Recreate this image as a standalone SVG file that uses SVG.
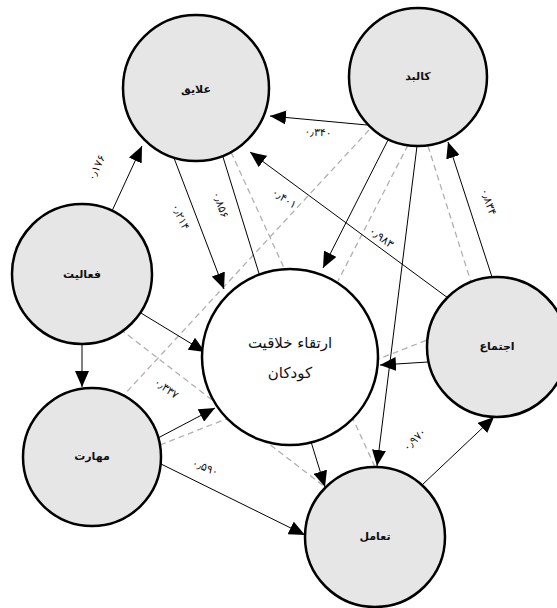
<svg xmlns="http://www.w3.org/2000/svg" width="557" height="608" viewBox="0 0 557 608">
<defs>
<marker id="arr" viewBox="0 0 16 14" refX="16" refY="7" markerWidth="16" markerHeight="14" markerUnits="userSpaceOnUse" orient="auto">
<path d="M0,0 L16,7 L0,14 Z" fill="#000"/>
</marker>
<style>
.c{stroke:#000;stroke-width:1;fill:none}
.ca{stroke:#000;stroke-width:1;fill:none;marker-end:url(#arr)}
.d{stroke:#b0b0b0;stroke-width:1.3;fill:none;stroke-dasharray:6 4}
.n{fill:#e6e6e6;stroke:#000;stroke-width:2.5}
.m{fill:#fff;stroke:#000;stroke-width:2.5}
.t{font-family:"DejaVu Sans",sans-serif;font-size:11px;font-weight:bold;fill:#111;text-anchor:middle;dominant-baseline:middle}
.tc{font-family:"DejaVu Sans",sans-serif;font-size:15px;fill:#111;text-anchor:middle;dominant-baseline:middle}
.l{font-family:"DejaVu Sans",sans-serif;font-size:11px;fill:#111;text-anchor:middle;dominant-baseline:middle}
</style>
</defs>
<rect width="557" height="608" fill="#fff"/>
<g id="connectors">
<line class="d" x1="231" y1="152" x2="375" y2="467"/>
<line class="d" x1="369" y1="130" x2="122" y2="397"/>
<line class="d" x1="408" y1="145" x2="338" y2="281"/>
<line class="d" x1="428" y1="146" x2="471" y2="282"/>
<line class="d" x1="120" y1="329" x2="325" y2="487"/>
<line class="d" x1="160" y1="445" x2="427" y2="340"/>
<line class="ca" x1="112" y1="211" x2="142" y2="146"/>
<line class="ca" x1="367" y1="125" x2="270" y2="116"/>
<line class="ca" x1="448" y1="298" x2="250" y2="152"/>
<line class="ca" x1="492" y1="277" x2="448" y2="142"/>
<line class="ca" x1="174" y1="158" x2="224" y2="289"/>
<line class="ca" x1="223" y1="157" x2="325" y2="487"/>
<line class="ca" x1="388" y1="140" x2="323" y2="268"/>
<line class="ca" x1="417" y1="146" x2="377" y2="466"/>
<line class="ca" x1="136" y1="310" x2="205" y2="352"/>
<line class="ca" x1="82" y1="344" x2="82" y2="387"/>
<line class="ca" x1="158" y1="438" x2="215" y2="408"/>
<line class="ca" x1="161" y1="464" x2="305" y2="535"/>
<line class="ca" x1="422" y1="485" x2="494" y2="417"/>
<line class="ca" x1="428" y1="362" x2="380" y2="365"/>
<text class="l" transform="translate(97,168) rotate(-65)">۰٫۱۷۶</text>
<text class="l" transform="translate(180,217) rotate(65)">۰٫۲۱۴</text>
<text class="l" transform="translate(220,205) rotate(70)">۰٫۸۵۶</text>
<text class="l" transform="translate(284,199) rotate(33)">۰٫۴۰۱</text>
<text class="l" transform="translate(381,238) rotate(36)">۰٫۹۸۳</text>
<text class="l" transform="translate(488,202) rotate(71)">۰٫۸۳۴</text>
<text class="l" transform="translate(318,133) rotate(4)">۰٫۳۴۰</text>
<text class="l" transform="translate(166,389) rotate(35)">۰٫۳۳۷</text>
<text class="l" transform="translate(205,468) rotate(22)">۰٫۵۹۰</text>
<text class="l" transform="translate(415,440) rotate(-45)">۰٫۹۷۰</text>
</g>
<g id="n-alayegh"><circle class="n" cx="196" cy="88" r="73"/><text class="t" x="196" y="90">علایق</text></g>
<g id="n-kalbad"><circle class="n" cx="418" cy="77" r="69"/><text class="t" x="418" y="77">کالبد</text></g>
<g id="n-faaliat"><circle class="n" cx="82" cy="274" r="70"/><text class="t" x="82" y="275">فعالیت</text></g>
<g id="n-center"><circle class="m" cx="290" cy="357" r="88"/><text class="tc" x="290" y="343">ارتقاء خلاقیت</text><text class="tc" x="290" y="373">کودکان</text></g>
<g id="n-ejtema"><circle class="n" cx="497" cy="347" r="70"/><text class="t" x="497" y="347">اجتماع</text></g>
<g id="n-maharat"><circle class="n" cx="92" cy="457" r="69"/><text class="t" x="92" y="457">مهارت</text></g>
<g id="n-taamol"><circle class="n" cx="375" cy="537" r="70"/><text class="t" x="375" y="537">تعامل</text></g>
</svg>
